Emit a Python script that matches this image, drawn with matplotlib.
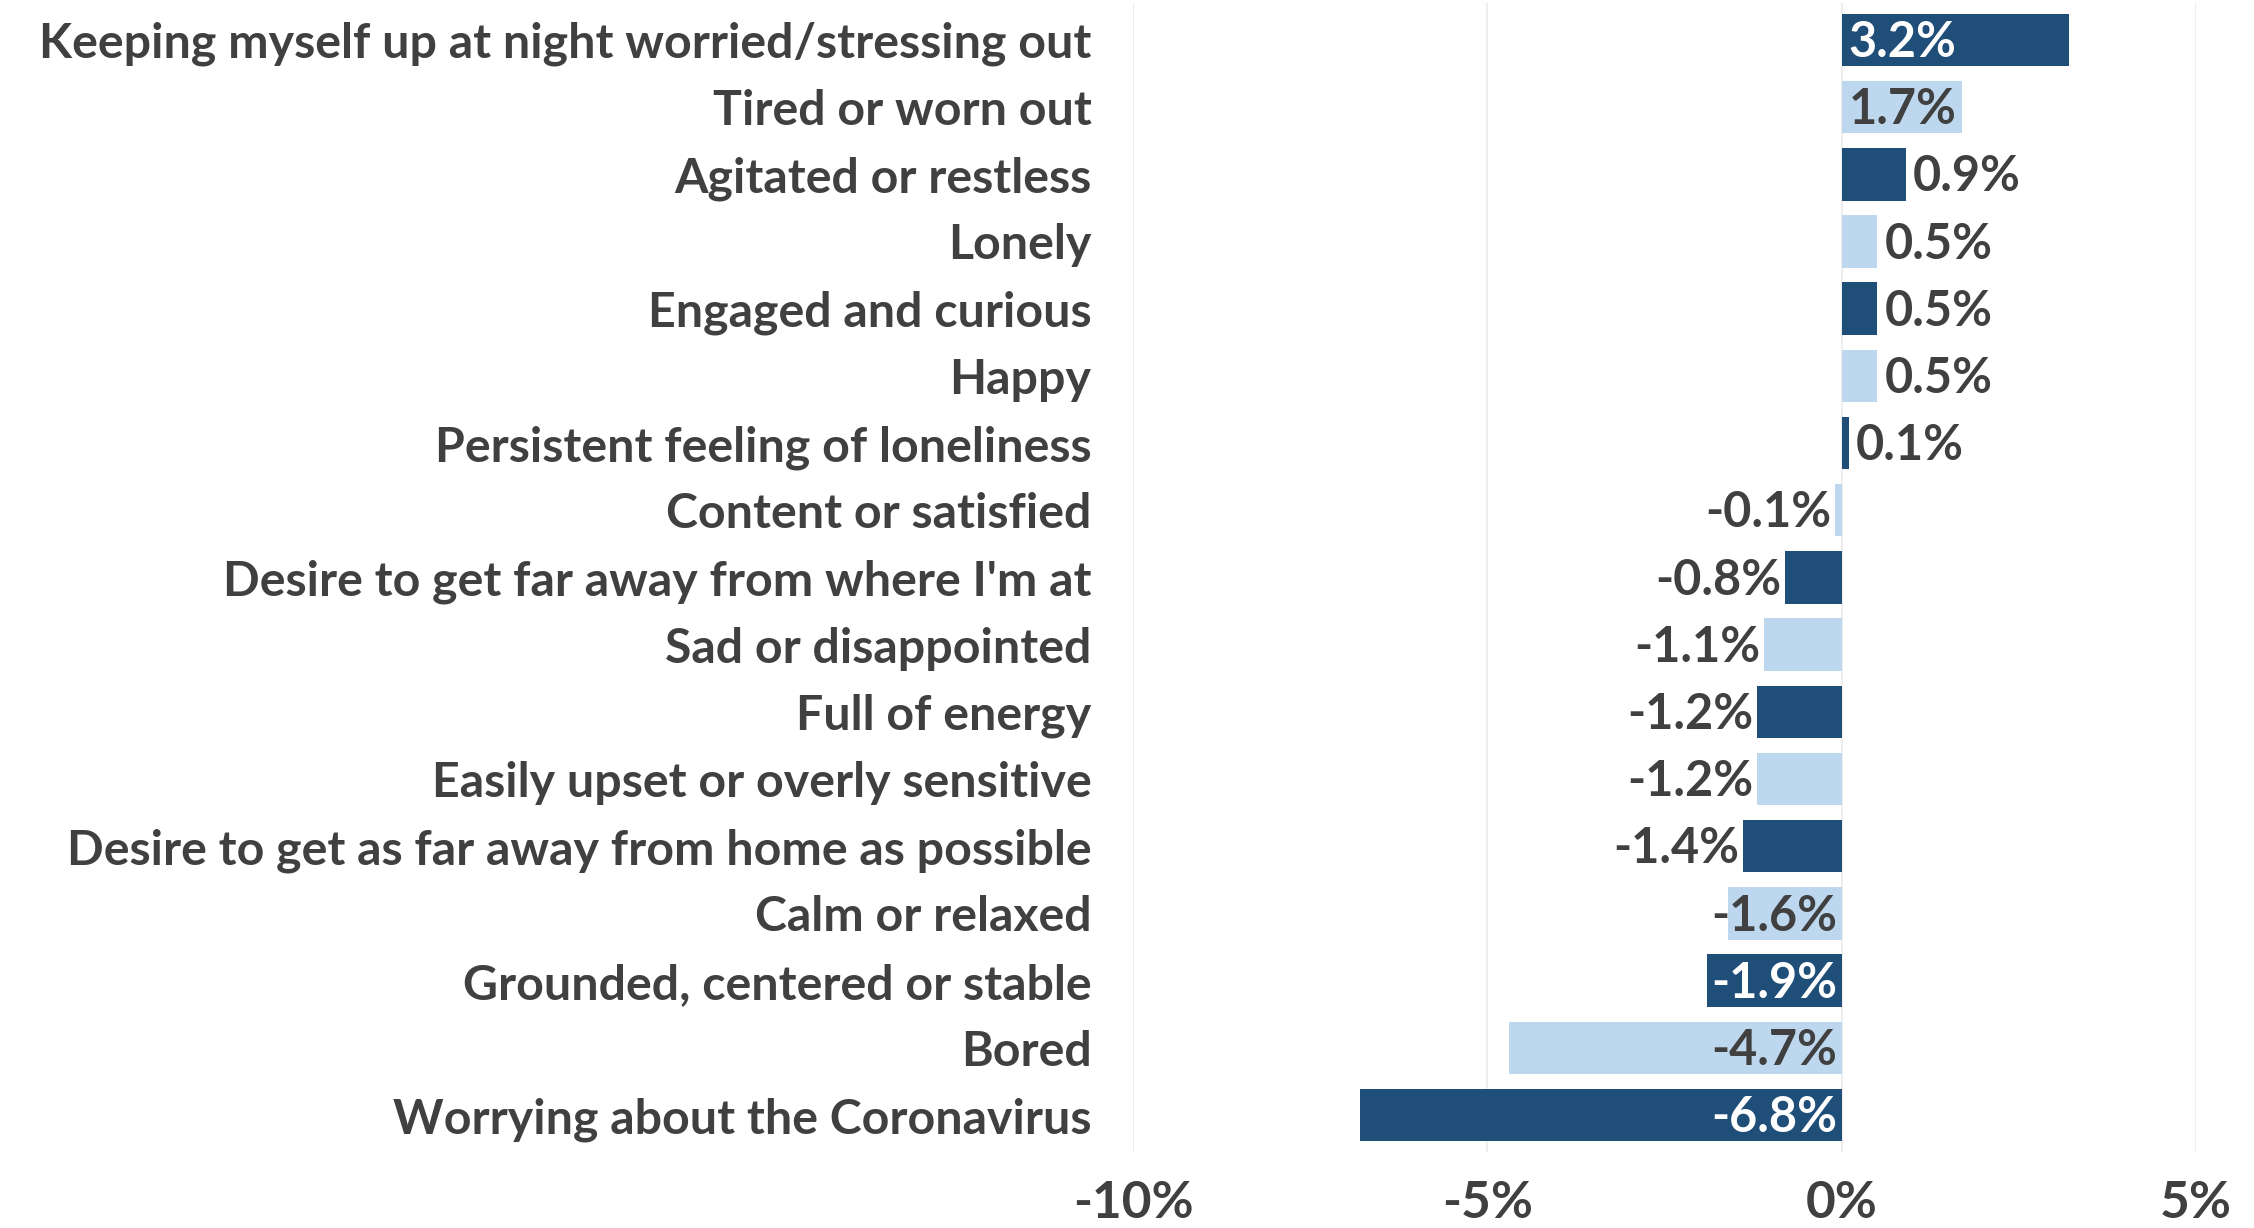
import matplotlib
matplotlib.use("Agg")
import matplotlib.pyplot as plt
import numpy as np

labels = [
    "Keeping myself up at night worried/stressing out",
    "Tired or worn out",
    "Agitated or restless",
    "Lonely",
    "Engaged and curious",
    "Happy",
    "Persistent feeling of loneliness",
    "Content or satisfied",
    "Desire to get far away from where I'm at",
    "Sad or disappointed",
    "Full of energy",
    "Easily upset or overly sensitive",
    "Desire to get as far away from home as possible",
    "Calm or relaxed",
    "Grounded, centered or stable",
    "Bored",
    "Worrying about the Coronavirus",
]
values = [3.2, 1.7, 0.9, 0.5, 0.5, 0.5, 0.1, -0.1, -0.8, -1.1, -1.2, -1.2,
          -1.4, -1.6, -1.9, -4.7, -6.8]
xticks = [-10, -5, 0, 5]

DARK = "#1f4e79"
LIGHT = "#bdd7ee"
TEXT = "#404040"

plt.rcParams["font.family"] = ["Lato", "DejaVu Sans"]
plt.rcParams["font.weight"] = "bold"

fig = plt.figure(figsize=(22.54, 12.28), dpi=100)
ax = fig.add_axes([0.5027, 0.0619, 0.4716, 0.9357])

y = np.arange(len(values))
colors = [DARK if i % 2 == 0 else LIGHT for i in range(len(values))]
ax.barh(y, values, height=0.78, color=colors, zorder=2)

# short bars get the label past their end, long ones at the base
for i, v in enumerate(values):
    inside = abs(v) >= 1.5
    if inside:
        x = 0.0
        off = 0.1 if v > 0 else -0.07
        col = "white" if colors[i] == DARK else TEXT
    else:
        x = v
        off = 0.1 if v > 0 else -0.05
        col = TEXT
    ha = "left" if v > 0 else "right"
    ax.text(x + off, i + 0.04, f"{v:.1f}%", ha=ha, va="center", fontsize=35,
            color=col, fontweight="bold", zorder=3)

ax.set_xlim(-10, 5)
ax.set_ylim(len(values) - 0.45, -0.55)
ax.set_xticks(xticks)
ax.set_xticklabels([f"{t}%" for t in xticks])
ax.set_yticks(y)
ax.set_yticklabels(labels)
ax.tick_params(axis="y", length=0, pad=30, labelsize=30, labelcolor=TEXT)
ax.tick_params(axis="x", length=0, pad=20, labelsize=37, labelcolor=TEXT)
ax.grid(True, axis="x", color="#eeeeee", lw=1.5, zorder=0)
for s in ax.spines.values():
    s.set_visible(False)

# scale the category labels so the longest one spans ~1050 px
fig.canvas.draw()
r = fig.canvas.get_renderer()
widest = max(t.get_window_extent(r).width for t in ax.get_yticklabels())
size = 30 * 1050 / widest
ax.tick_params(axis="y", labelsize=size)

fig.savefig("out.png", dpi=100)
